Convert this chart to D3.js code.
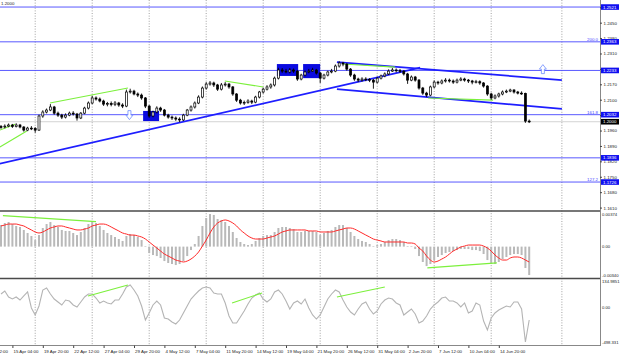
<!DOCTYPE html>
<html><head><meta charset="utf-8">
<script src="https://cdn.jsdelivr.net/npm/d3@7/dist/d3.min.js"></script>
<style>
html,body{margin:0;padding:0;background:#fff;}
svg{display:block;font-family:"Liberation Sans",Arial,sans-serif;}
</style></head>
<body>
<svg id="c" width="620" height="357"></svg>
<script>
// ---------- DATA ----------
const firstOpen = 1.1978;
const closes = [1.1976,1.1980,1.1985,1.1978,1.1985,1.1976,1.1962,1.1971,1.1969,1.1962,
1.2026,1.2044,1.2053,1.2067,1.2039,1.2030,1.2021,1.2030,1.2039,1.2035,
1.2017,1.2039,1.2062,1.2085,1.2108,1.2103,1.2094,1.2080,1.2083,1.2078,
1.2085,1.2076,1.2071,1.2135,1.2139,1.2126,1.2121,1.2108,1.2071,1.2026,
1.2044,1.2062,1.2053,1.2030,1.2021,1.2017,1.2012,1.2008,1.2030,1.2053,
1.2067,1.2085,1.2112,1.2153,1.2171,1.2176,1.2167,1.2148,1.2167,1.2171,
1.2158,1.2126,1.2098,1.2085,1.2088,1.2094,1.2089,1.2112,1.2135,1.2148,
1.2158,1.2167,1.2198,1.2235,1.2230,1.2226,1.2235,1.2230,1.2194,1.2212,
1.2226,1.2230,1.2235,1.2221,1.2198,1.2212,1.2226,1.2230,1.2253,1.2267,
1.2262,1.2239,1.2212,1.2194,1.2189,1.2194,1.2192,1.2189,1.2180,1.2198,
1.2208,1.2217,1.2230,1.2235,1.2232,1.2230,1.2217,1.2189,1.2203,1.2189,
1.2153,1.2130,1.2121,1.2158,1.2180,1.2176,1.2185,1.2189,1.2185,1.2180,
1.2189,1.2194,1.2189,1.2185,1.2180,1.2182,1.2176,1.2162,1.2126,1.2108,
1.2117,1.2126,1.2135,1.2139,1.2144,1.2135,1.2130,1.2128,1.2003,1.2000];
const highs = [1.1985,1.1988,1.1992,1.1990,1.1993,1.1990,1.1980,1.1977,1.1980,1.1975,
1.2032,1.2052,1.2060,1.2080,1.2072,1.2046,1.2036,1.2038,1.2046,1.2048,
1.2040,1.2044,1.2068,1.2092,1.2118,1.2115,1.2110,1.2100,1.2090,1.2092,
1.2094,1.2090,1.2084,1.2146,1.2150,1.2145,1.2133,1.2128,1.2112,1.2076,
1.2050,1.2070,1.2068,1.2058,1.2036,1.2028,1.2024,1.2020,1.2036,1.2058,
1.2074,1.2092,1.2120,1.2160,1.2180,1.2185,1.2182,1.2172,1.2176,1.2180,
1.2176,1.2162,1.2130,1.2104,1.2096,1.2102,1.2100,1.2118,1.2140,1.2155,
1.2166,1.2174,1.2205,1.2245,1.2244,1.2240,1.2244,1.2242,1.2234,1.2218,
1.2233,1.2240,1.2245,1.2240,1.2226,1.2218,1.2232,1.2240,1.2260,1.2275,
1.2272,1.2266,1.2244,1.2218,1.2200,1.2202,1.2202,1.2198,1.2194,1.2204,
1.2214,1.2224,1.2238,1.2244,1.2242,1.2240,1.2234,1.2222,1.2210,1.2208,
1.2194,1.2158,1.2136,1.2164,1.2188,1.2186,1.2192,1.2198,1.2196,1.2192,
1.2196,1.2202,1.2200,1.2194,1.2190,1.2190,1.2188,1.2180,1.2166,1.2132,
1.2124,1.2132,1.2142,1.2146,1.2150,1.2148,1.2140,1.2138,1.2132,1.2010];
const lows = [1.1968,1.1970,1.1975,1.1972,1.1974,1.1970,1.1955,1.1957,1.1962,1.1950,
1.1958,1.2018,1.2038,1.2048,1.2032,1.2022,1.2012,1.2015,1.2025,1.2028,
1.2005,1.2012,1.2034,1.2056,1.2080,1.2096,1.2088,1.2072,1.2070,1.2070,
1.2071,1.2068,1.2062,1.2066,1.2128,1.2120,1.2112,1.2100,1.2062,1.2018,
1.2020,1.2038,1.2045,1.2024,1.2014,1.2008,1.2004,1.1998,1.2003,1.2025,
1.2046,1.2060,1.2080,1.2106,1.2146,1.2164,1.2158,1.2140,1.2142,1.2160,
1.2150,1.2118,1.2090,1.2078,1.2076,1.2082,1.2080,1.2084,1.2106,1.2128,
1.2142,1.2150,1.2160,1.2192,1.2222,1.2220,1.2220,1.2222,1.2186,1.2188,
1.2206,1.2220,1.2226,1.2214,1.2176,1.2192,1.2206,1.2220,1.2225,1.2246,
1.2252,1.2232,1.2204,1.2186,1.2180,1.2182,1.2184,1.2180,1.2150,1.2174,
1.2192,1.2202,1.2212,1.2226,1.2224,1.2222,1.2210,1.2172,1.2184,1.2182,
1.2146,1.2122,1.2112,1.2116,1.2152,1.2168,1.2170,1.2178,1.2178,1.2172,
1.2174,1.2184,1.2182,1.2176,1.2170,1.2174,1.2168,1.2155,1.2118,1.2100,
1.2102,1.2110,1.2120,1.2130,1.2134,1.2128,1.2124,1.2122,1.1995,1.1994];

const macdMain = [0.00233,0.00255,0.00266,0.00244,0.00223,0.00212,0.00180,0.00147,0.00115,0.00071,
0.00125,0.00201,0.00244,0.00266,0.00233,0.00212,0.00180,0.00169,0.00169,0.00147,
0.00125,0.00158,0.00201,0.00244,0.00266,0.00255,0.00223,0.00180,0.00147,0.00125,
0.00104,0.00082,0.00061,0.00115,0.00136,0.00125,0.00104,0.00071,0.00006,-0.00069,
-0.00091,-0.00102,-0.00123,-0.00156,-0.00177,-0.00188,-0.00199,-0.00188,-0.00156,-0.00102,
-0.00037,0.00028,0.00115,0.00223,0.00309,0.00352,0.00342,0.00298,0.00288,0.00266,
0.00223,0.00158,0.00093,0.00050,0.00028,0.00017,0.00028,0.00061,0.00093,0.00115,
0.00125,0.00125,0.00158,0.00201,0.00212,0.00212,0.00201,0.00190,0.00158,0.00158,
0.00169,0.00169,0.00169,0.00158,0.00125,0.00147,0.00169,0.00180,0.00212,0.00233,
0.00233,0.00201,0.00158,0.00115,0.00082,0.00061,0.00050,0.00028,0.00006,0.00017,
0.00028,0.00050,0.00071,0.00082,0.00082,0.00071,0.00050,0.00006,0.00006,-0.00026,
-0.00102,-0.00166,-0.00210,-0.00188,-0.00145,-0.00112,-0.00091,-0.00069,-0.00058,-0.00048,
-0.00037,-0.00026,-0.00026,-0.00026,-0.00037,-0.00037,-0.00048,-0.00080,-0.00145,-0.00188,
-0.00188,-0.00166,-0.00134,-0.00112,-0.00091,-0.00080,-0.00080,-0.00091,-0.00231,-0.00307];
const macdSignal = [0.00223,0.00233,0.00244,0.00244,0.00244,0.00233,
0.00223,0.00201,0.00180,0.00158,
0.00147,0.00158,0.00180,0.00201,0.00212,
0.00223,0.00223,0.00212,0.00201,0.00190,
0.00180,0.00180,0.00190,0.00201,0.00223,
0.00233,0.00244,0.00244,0.00233,0.00212,
0.00190,0.00169,0.00147,0.00136,0.00125,
0.00125,0.00115,0.00104,0.00082,0.00050,
0.00017,-0.00015,-0.00048,-0.00080,-0.00102,
-0.00123,-0.00145,-0.00156,-0.00166,-0.00156,
-0.00134,-0.00102,-0.00058,0.00006,0.00071,
0.00147,0.00212,0.00255,0.00277,0.00288,
0.00277,0.00255,0.00223,0.00180,0.00147,
0.00115,0.00093,0.00082,0.00082,0.00082,
0.00093,0.00104,0.00115,0.00136,0.00158,
0.00169,0.00180,0.00180,0.00180,0.00180,
0.00180,0.00169,0.00169,0.00169,0.00158,
0.00158,0.00158,0.00158,0.00169,0.00180,
0.00190,0.00201,0.00201,0.00190,0.00169,
0.00147,0.00125,0.00104,0.00082,0.00071,
0.00061,0.00050,0.00050,0.00050,0.00050,
0.00050,0.00050,0.00039,0.00039,0.00028,
-0.00015,-0.00048,-0.00102,-0.00145,-0.00166,
-0.00156,-0.00134,-0.00112,-0.00080,-0.00048,
-0.00026,-0.00004,0.00006,0.00017,0.00017,
0.00017,0.00017,0.00006,-0.00015,-0.00048,
-0.00091,-0.00123,-0.00145,-0.00145,-0.00123,
-0.00112,-0.00112,-0.00123,-0.00145,-0.00166];
const cci = [67.5,83.0,51.9,41.5,51.9,36.3,57.1,77.9,-5.2,-41.5,
5.2,88.2,98.6,67.5,41.5,26.0,10.4,36.3,31.1,10.4,
0,26.0,51.9,67.5,67.5,46.7,20.8,31.1,20.8,15.6,
36.3,36.3,67.5,103.8,114.2,88.2,57.1,5.2,-67.5,-31.1,
10.4,31.1,10.4,-57.1,-62.3,-77.9,-88.2,-67.5,-31.1,5.2,
41.5,62.3,83.0,98.6,103.8,98.6,72.7,67.5,67.5,20.8,
-46.7,-83.0,-83.0,-51.9,-20.8,15.6,46.7,62.3,72.7,41.5,
26.0,41.5,77.9,88.2,67.5,31.1,-10.4,20.8,31.1,15.6,
41.5,-5.2,-41.5,-62.3,-41.5,0,41.5,67.5,88.2,77.9,
36.3,0,-26.0,-41.5,-10.4,15.6,26.0,-10.4,-36.3,-20.8,
15.6,36.3,46.7,41.5,20.8,10.4,-41.5,-26.0,-10.4,-36.3,
-83.0,-72.7,-46.7,-10.4,10.4,26.0,46.7,51.9,31.1,31.1,
20.8,0,20.8,-31.1,-20.8,20.8,10.4,-72.7,-119.4,-57.1,
-31.1,-15.6,-5.2,5.2,0,26.0,26.0,-10.4,-181.7,-67.5];

// axis labels
const priceTicks = [1.2520,1.2450,1.2380,1.2310,1.2240,1.2170,1.2100,1.2030,1.1960,1.1890,1.1820,1.1750,1.1680,1.1610];
const dateLabels = ["12 Apr 12:00","15 Apr 04:00","19 Apr 20:00","22 Apr 12:00","27 Apr 04:00","29 Apr 20:00","4 May 12:00","7 May 04:00","11 May 20:00","14 May 12:00","19 May 04:00","21 May 20:00","26 May 12:00","31 May 04:00","2 Jun 20:00","7 Jun 12:00","10 Jun 04:00","14 Jun 20:00"];
const dateLabelBars = [-5,3,11,19,27,35,43,51,59,67,75,83,91,99,107,115,123,131];
const weekGridBars = [9,24,39,54,69,84,99,114,129,147.6];
const macdLabels = [[0.00374,"0.00374"],[0,"0.00"],[-0.00339,"-0.00340"]];
const cciLabels = [[134.9851,"134.9851"],[0,"0.00"]];
const cciMinLabel = "-498.331";

// drawn objects
const levels = [1.2521,1.2363,1.2233,1.2032,1.1836,1.1726];
const fibLabels = [[1.2363,"200.0"],[1.2032,"161.8"],[1.1726,"127.2"]];
const bidPrice = 1.2000;
const trendLines = [[-0.3,1.1810,110.3,1.2246],[88.4,1.2271,147.6,1.2189],[88.4,1.2148,147.6,1.2058]];
const greenPrice = [[-0.3,1.1962,3.7,1.1989],[-0.3,1.1885,6.8,1.1958],[12.9,1.2085,33.4,1.2153],[58.9,1.2185,69,1.2158],[90,1.2262,103.7,1.2248],[112.4,1.2108,129.5,1.2098]];
const greenMacd = [[0.5,0.00335,25,0.00270],[112.2,-0.00230,130.5,-0.00176]];
const greenCci = [[22.9,57,33.4,114],[60.8,20.8,68.7,72.7],[88.4,51.9,101,103.8]];
const boxes = [[37.4,1.2049,41.6,1.2003],[72.6,1.2262,78.2,1.2208],[79.5,1.2262,84.0,1.2198]];
const arrows = [[33.8,1.2030,"down"],[142.6,1.2239,"up"]];

// ---------- DRAW ----------
const svg = d3.select("#c");
const x = d3.scaleLinear().domain([0,139]).range([1,529.2]);
const yP = d3.scaleLinear().domain([1.1599,1.2553]).range([210,0]);
const yM = d3.scaleLinear().domain([-0.00339,0.00374]).range([278,212]);
const yC = d3.scaleLinear().domain([-197.2,145.3]).range([345,279]);
const PW = 600;
const FS = 4.4;

const defs = svg.append("defs");
[["cp",0,210],["cm",212,278],["cc",279,345]].forEach(([id,a,b])=>{
  defs.append("clipPath").attr("id",id).append("rect").attr("x",0).attr("y",a).attr("width",PW).attr("height",b-a);
});

// grid
svg.append("g").selectAll("line").data(weekGridBars).join("line")
  .attr("x1",d=>x(d)).attr("x2",d=>x(d)).attr("y1",0).attr("y2",345)
  .attr("stroke","#8a8a8a").attr("stroke-width",0.8).attr("stroke-dasharray","1,1.6");

const gP = svg.append("g").attr("clip-path","url(#cp)");
gP.append("line").attr("x1",0).attr("x2",PW).attr("y1",yP(bidPrice)).attr("y2",yP(bidPrice)).attr("stroke","#c8c8c8").attr("stroke-width",0.8);
gP.selectAll("line.lv").data(levels).join("line").attr("class","lv")
  .attr("x1",0).attr("x2",PW).attr("y1",d=>yP(d)).attr("y2",d=>yP(d))
  .attr("stroke","#4646ff").attr("stroke-width",0.9);
gP.selectAll("text.fib").data(fibLabels).join("text").attr("class","fib")
  .attr("x",598).attr("y",d=>yP(d[0])-1).attr("text-anchor","end")
  .attr("font-size",FS).attr("fill","#4646ff").text(d=>d[1]);
gP.selectAll("rect.bx").data(boxes).join("rect").attr("class","bx")
  .attr("x",d=>x(d[0])).attr("y",d=>yP(d[1])).attr("width",d=>x(d[2])-x(d[0])).attr("height",d=>yP(d[3])-yP(d[1]))
  .attr("fill","#0a0ae0");
gP.selectAll("line.tl").data(trendLines).join("line").attr("class","tl")
  .attr("x1",d=>x(d[0])).attr("y1",d=>yP(d[1])).attr("x2",d=>x(d[2])).attr("y2",d=>yP(d[3]))
  .attr("stroke","#1e1eff").attr("stroke-width",1.7);
gP.selectAll("line.gr").data(greenPrice).join("line").attr("class","gr")
  .attr("x1",d=>x(d[0])).attr("y1",d=>yP(d[1])).attr("x2",d=>x(d[2])).attr("y2",d=>yP(d[3]))
  .attr("stroke","#7cf03c").attr("stroke-width",1.1);
// candles
const bars = closes.map((c,i)=>({i,o:i?closes[i-1]:firstOpen,c,h:highs[i],l:lows[i]}));
const cg = gP.append("g");
cg.selectAll("line.wk").data(bars).join("line").attr("class","wk")
  .attr("x1",d=>x(d.i)).attr("x2",d=>x(d.i)).attr("y1",d=>yP(d.h)).attr("y2",d=>yP(d.l))
  .attr("stroke","#000").attr("stroke-width",0.9);
cg.selectAll("rect.bd").data(bars).join("rect").attr("class","bd")
  .attr("x",d=>x(d.i)-1).attr("width",2)
  .attr("y",d=>yP(Math.max(d.o,d.c))).attr("height",d=>Math.max(0.8,Math.abs(yP(d.o)-yP(d.c))))
  .attr("fill",d=>d.c>=d.o?"#fff":"#000").attr("stroke","#000").attr("stroke-width",0.7);
// arrows
arrows.forEach(([bi,p,dir])=>{
  const cx=x(bi), cy=yP(p), s = dir==="down"?1:-1;
  const pts=[[-1.5,-4.5],[1.5,-4.5],[1.5,0],[3.5,0],[0,4.5],[-3.5,0],[-1.5,0]].map(([a,b])=>[cx+a,cy+b*s]);
  gP.append("path").attr("d",d3.line()(pts)+"Z").attr("fill","#fff").attr("stroke","#6d8cff").attr("stroke-width",0.8);
});

// MACD
const gM = svg.append("g").attr("clip-path","url(#cm)");
gM.selectAll("rect").data(macdMain).join("rect")
  .attr("x",(d,i)=>x(i)-1).attr("width",2)
  .attr("y",d=>Math.min(yM(d),yM(0))).attr("height",d=>Math.abs(yM(d)-yM(0)))
  .attr("fill","#b9b9b9");
gM.append("path").datum(macdSignal).attr("fill","none").attr("stroke","#ff2a2a").attr("stroke-width",1)
  .attr("d",d3.line().x((d,i)=>x(i)).y(d=>yM(d)).curve(d3.curveMonotoneX));
gM.selectAll("line.gr").data(greenMacd).join("line").attr("class","gr")
  .attr("x1",d=>x(d[0])).attr("y1",d=>yM(d[1])).attr("x2",d=>x(d[2])).attr("y2",d=>yM(d[3]))
  .attr("stroke","#7cf03c").attr("stroke-width",1.1);

// CCI
const gC = svg.append("g").attr("clip-path","url(#cc)");
gC.append("path").datum(cci).attr("fill","none").attr("stroke","#b4b4b4").attr("stroke-width",1.1)
  .attr("d",d3.line().x((d,i)=>x(i)).y(d=>yC(d)));
gC.selectAll("line.gr").data(greenCci).join("line").attr("class","gr")
  .attr("x1",d=>x(d[0])).attr("y1",d=>yC(d[1])).attr("x2",d=>x(d[2])).attr("y2",d=>yC(d[3]))
  .attr("stroke","#7cf03c").attr("stroke-width",1.1);

// separators & frame
[211,278.5].forEach(yy=>svg.append("line").attr("x1",0).attr("x2",PW).attr("y1",yy).attr("y2",yy).attr("stroke","#4a4a4a").attr("stroke-width",1.4));
svg.append("line").attr("x1",0).attr("x2",PW).attr("y1",345.5).attr("y2",345.5).attr("stroke","#6a6a6a").attr("stroke-width",0.8);
svg.append("line").attr("x1",PW+0.5).attr("x2",PW+0.5).attr("y1",0).attr("y2",346).attr("stroke","#6a6a6a").attr("stroke-width",0.8);

// right price axis
const ax = svg.append("g").attr("transform",`translate(${PW},0)`)
  .call(d3.axisRight(yP).tickValues(priceTicks).tickFormat(d3.format(".4f")).tickSize(2).tickPadding(1.5));
ax.select(".domain").remove();
ax.selectAll("text").attr("font-size",FS).attr("fill","#222").attr("font-family","Liberation Sans");
ax.selectAll("line").attr("stroke","#444");

// level value boxes
const lb = svg.append("g");
levels.forEach(p=>{
  lb.append("rect").attr("x",PW+1).attr("y",yP(p)-2.8).attr("width",18).attr("height",5.6).attr("fill","#1010f0");
  lb.append("text").attr("x",PW+3).attr("y",yP(p)+1.6).attr("font-size",FS).attr("fill","#fff").text(p.toFixed(4));
});
lb.append("rect").attr("x",PW+1).attr("y",yP(bidPrice)-2.8).attr("width",18).attr("height",5.6).attr("fill","#000");
lb.append("text").attr("x",PW+3).attr("y",yP(bidPrice)+1.6).attr("font-size",FS).attr("fill","#fff").text(bidPrice.toFixed(4));

// MACD / CCI labels
const ind = svg.append("g").attr("font-size",4.2).attr("fill","#222");
macdLabels.forEach(([v,t])=>{
  const yy = Math.min(Math.max(yM(v),214.5),275.5);
  ind.append("text").attr("x",PW+2).attr("y",yy+1.6).text(t);
});
cciLabels.forEach(([v,t])=>{
  const yy = Math.min(Math.max(yC(v),281.8),343);
  ind.append("text").attr("x",PW+2).attr("y",yy+1.6).text(t);
});
ind.append("text").attr("x",PW+2).attr("y",343+1.4).text(cciMinLabel);

// time axis
const tx = svg.append("g").attr("transform","translate(0,345.5)")
  .call(d3.axisBottom(x).tickValues(dateLabelBars).tickFormat((d,i)=>dateLabels[i]).tickSize(2.5).tickPadding(2));
tx.select(".domain").remove();
tx.selectAll("line").attr("stroke","#444");
tx.selectAll("text").attr("font-size",FS).attr("fill","#222").attr("text-anchor","start").attr("dx","0.6").attr("font-family","Liberation Sans");

// top-left price caption
svg.append("text").attr("x",1).attr("y",4.5).attr("font-size",FS).attr("fill","#222").text(bidPrice.toFixed(4));
</script>
</body></html>
